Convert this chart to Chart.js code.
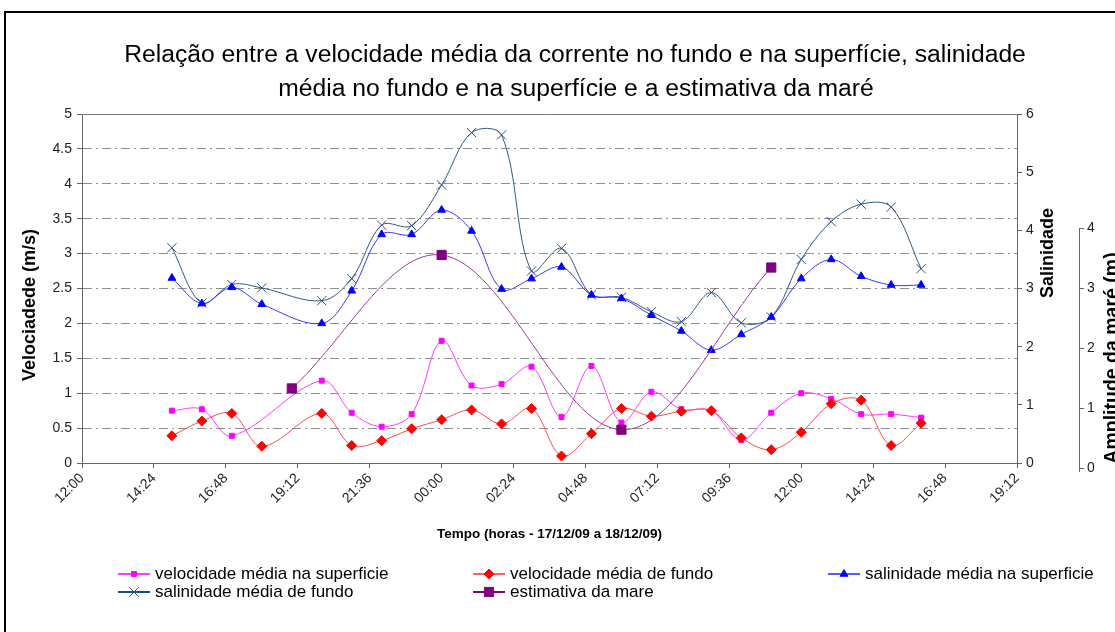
<!DOCTYPE html>
<html lang="pt">
<head>
<meta charset="utf-8">
<title>Velocidade, salinidade e maré</title>
<script src="https://cdn.jsdelivr.net/npm/chart.js@4/dist/chart.umd.min.js"></script>
<style>
  html, body { margin: 0; padding: 0; background: #fff; overflow: hidden; }
  #quadro { position: relative; width: 1115px; height: 632px; overflow: hidden; }
  #moldura { position: absolute; left: 4px; top: 11px; width: 1200px; height: 700px; border: 2px solid #000; }
  #grafico { position: absolute; left: 0; top: 0; }
</style>
</head>
<body>
<div id="quadro">
  <div id="moldura"></div>
  <canvas id="grafico" width="1115" height="632"></canvas>
</div>
<script>
// horas das medições (17/12/09 15:00 até 18/12/09 16:00)
const horas = ['15:00', '16:00', '17:00', '18:00', '19:00', '20:00', '21:00', '22:00', '23:00',
  '00:00', '01:00', '02:00', '03:00', '04:00', '05:00', '06:00', '07:00', '08:00', '09:00',
  '10:00', '11:00', '12:00', '13:00', '14:00', '15:00', '16:00'];

// velocidades em m/s
const velSuperficie = [0.75, 0.77, 0.39, null, null, 1.18, 0.72, 0.52, 0.70, 1.75, 1.11, 1.13, 1.38,
  0.66, 1.39, 0.58, 1.02, 0.77, 0.75, 0.33, 0.72, 1.00, 0.92, 0.70, 0.70, 0.65];
const velFundo = [0.39, 0.60, 0.71, 0.24, null, 0.71, 0.25, 0.32, 0.49, 0.62, 0.76, 0.56, 0.78,
  0.10, 0.42, 0.78, 0.67, 0.74, 0.75, 0.36, 0.19, 0.44, 0.85, 0.90, 0.25, 0.57];

// salinidade
const salSuperficie = [3.18, 2.74, 3.02, 2.73, null, 2.40, 2.96, 3.93, 3.93, 4.35, 3.99, 2.99, 3.17,
  3.37, 2.89, 2.83, 2.54, 2.27, 1.94, 2.21, 2.51, 3.17, 3.50, 3.21, 3.06, 3.06];
const salFundo = [3.70, 2.75, 3.07, 3.01, null, 2.79, 3.17, 4.09, 4.08, 4.78, 5.68, 5.64, 3.30,
  3.69, 2.89, 2.85, 2.60, 2.43, 2.93, 2.41, 2.51, 3.50, 4.15, 4.45, 4.40, 3.34];

// estimativa da maré (m)
const mareHoras = ['19:00', '00:00', '06:00', '11:00'];
const mareValores = [1.33, 3.56, 0.64, 3.35];
const marcasMare = [0, 1, 2, 3, 4];

const titulo = ['Relação entre a velocidade média da corrente no fundo e na superfície, salinidade',
  'média no fundo e na superfície e a estimativa da maré'];

const fonte = "'Liberation Sans', Arial, sans-serif";

// converte "hh:mm" em minutos desde 17/12 12:00, virando o dia quando a hora recua
function paraMinutos(lista) {
  let dia = 0, anterior = -1;
  return lista.map(h => {
    const [hh, mm] = h.split(':').map(Number);
    const m = hh * 60 + mm;
    if (m < anterior) dia++;
    anterior = m;
    return dia * 1440 + m - 720;
  });
}

function pontos(tempos, valores) {
  return tempos.map((t, i) => ({ x: t, y: valores[i] })).filter(p => p.y !== null);
}

function formataHora(min) {
  const total = (min + 720) % 1440;
  const h = Math.floor(total / 60), m = Math.round(total % 60);
  return String(h).padStart(2, '0') + ':' + String(m).padStart(2, '0');
}

const tempos = paraMinutos(horas);
const temposMare = paraMinutos(mareHoras);

// títulos, eixo da maré, borda superior e legenda em grade
const extras = {
  id: 'extras',
  afterDraw(chart) {
    const ctx = chart.ctx;
    const area = chart.chartArea;
    const sMare = chart.scales.yMare;
    ctx.save();

    // linha superior da área do gráfico
    ctx.strokeStyle = '#777';
    ctx.lineWidth = 1;
    ctx.beginPath();
    ctx.moveTo(area.left, Math.round(area.top) + 0.5);
    ctx.lineTo(area.right, Math.round(area.top) + 0.5);
    ctx.stroke();

    // eixo da maré só de 0 a 4
    ctx.strokeStyle = '#666';
    ctx.beginPath();
    ctx.moveTo(Math.round(sMare.left) + 0.5, sMare.getPixelForValue(0) + 4);
    ctx.lineTo(Math.round(sMare.left) + 0.5, sMare.getPixelForValue(4));
    ctx.stroke();

    // título
    ctx.fillStyle = '#000';
    ctx.textAlign = 'center';
    ctx.textBaseline = 'middle';
    ctx.font = '24.7px ' + fonte;
    ctx.fillText(titulo[0], 575, 55);
    ctx.fillText(titulo[1], 576, 89);

    // títulos dos eixos verticais
    const vertical = (texto, x, y) => {
      ctx.save();
      ctx.translate(x, y);
      ctx.rotate(-Math.PI / 2);
      ctx.fillText(texto, 0, 0);
      ctx.restore();
    };
    ctx.font = 'bold 18px ' + fonte;
    vertical('Velociadede (m/s)', 30, 305);
    vertical('Salinidade', 1048, 253);
    ctx.font = 'bold 19.5px ' + fonte;
    ctx.textBaseline = 'alphabetic';
    vertical('Amplitude da maré (m)', 1118, 358);

    // legenda
    ctx.font = '17px ' + fonte;
    ctx.textAlign = 'left';
    ctx.textBaseline = 'middle';
    chart.data.datasets.forEach((ds, i) => {
      const x0 = 118 + (i % 3) * 355;
      const y = 574 + Math.floor(i / 3) * 18;
      ctx.strokeStyle = ds.legendaCor;
      ctx.lineWidth = 2;
      ctx.beginPath();
      ctx.moveTo(x0, y);
      ctx.lineTo(x0 + 32, y);
      ctx.stroke();
      ctx.fillStyle = ds.pointBackgroundColor;
      ctx.strokeStyle = ds.pointBorderColor;
      ctx.lineWidth = ds.pointBorderWidth;
      Chart.helpers.drawPoint(ctx, {
        pointStyle: ds.pointStyle, radius: ds.pointRadius, borderWidth: ds.pointBorderWidth, rotation: 0
      }, x0 + 16, y);
      ctx.fillStyle = '#000';
      ctx.fillText(ds.label, x0 + 37, y);
    });
    ctx.restore();
  }
};

const base = { borderWidth: 1, tension: 0.35, fill: false, pointBorderWidth: 1 };

new Chart(document.getElementById('grafico'), {
  type: 'line',
  data: {
    datasets: [
      { ...base, label: 'velocidade média na superficie', data: pontos(tempos, velSuperficie), yAxisID: 'y',
        borderColor: '#ff3dff', legendaCor: '#ff3dff', pointStyle: 'rect', pointRadius: 3.5,
        pointBackgroundColor: '#ff00ff', pointBorderColor: '#ff00ff', order: 3 },
      { ...base, label: 'velocidade média de fundo', data: pontos(tempos, velFundo), yAxisID: 'y',
        borderColor: '#ff4a4a', legendaCor: '#ff6060', pointStyle: 'rectRot', pointRadius: 5,
        pointBackgroundColor: '#ff0000', pointBorderColor: '#ff0000', order: 2 },
      { ...base, label: 'salinidade média na superficie', data: pontos(tempos, salSuperficie), yAxisID: 'ySal',
        borderColor: '#3838ff', legendaCor: '#5a5aff', pointStyle: 'triangle', pointRadius: 4.5,
        pointBackgroundColor: '#0000ff', pointBorderColor: '#0000ff', order: 4 },
      { ...base, label: 'salinidade média de fundo', data: pontos(tempos, salFundo), yAxisID: 'ySal',
        borderColor: '#2d5a84', legendaCor: '#1f4e79', pointStyle: 'crossRot', pointRadius: 6.5,
        pointBackgroundColor: '#2a4f7a', pointBorderColor: '#2a4f7a', order: 5 },
      { ...base, label: 'estimativa da mare', data: pontos(temposMare, mareValores), yAxisID: 'yMare',
        borderColor: '#9a3d9a', legendaCor: '#800080', pointStyle: 'rect', pointRadius: 6.5,
        pointBackgroundColor: '#800080', pointBorderColor: '#800080', order: 1 }
    ]
  },
  options: {
    responsive: false,
    animation: false,
    events: [],
    layout: { padding: { top: 114, bottom: 87, left: 5, right: 0 } },
    plugins: { legend: { display: false }, title: { display: false }, tooltip: { enabled: false } },
    scales: {
      x: {
        type: 'linear', position: 'bottom', min: 0, max: 1872,
        ticks: {
          stepSize: 144, autoSkip: false, maxRotation: 45, minRotation: 45, padding: 2,
          color: '#222', font: { family: fonte, size: 14 }, callback: v => formataHora(v)
        },
        grid: { drawOnChartArea: false, tickLength: 5, tickColor: '#666' },
        border: { color: '#666' },
        title: {
          display: true, text: 'Tempo (horas - 17/12/09 a 18/12/09)', color: '#000',
          font: { family: fonte, size: 13.5, weight: 'bold' }, padding: { top: 0, bottom: 3 }
        },
        afterFit: s => { s.height = 82; }
      },
      y: {
        position: 'left', min: 0, max: 5,
        ticks: { stepSize: 0.5, padding: 5, color: '#222', font: { family: fonte, size: 14 }, callback: v => String(v) },
        grid: { color: '#8f8f8f', tickLength: 5, tickColor: '#666' },
        border: { color: '#666', dash: [9, 4, 2, 4] },
        afterFit: s => { s.width = 77; }
      },
      ySal: {
        position: 'right', min: 0, max: 6, weight: 0,
        ticks: { stepSize: 1, padding: 4, color: '#222', font: { family: fonte, size: 14 } },
        grid: { drawOnChartArea: false, tickLength: 5, tickColor: '#666' },
        border: { color: '#666' },
        afterFit: s => { s.width = 62; }
      },
      yMare: {
        position: 'right', min: 0.084, max: 5.915, weight: 1,
        afterBuildTicks: s => { s.ticks = marcasMare.map(v => ({ value: v })); },
        ticks: { padding: 3, color: '#222', font: { family: fonte, size: 14 } },
        grid: { drawOnChartArea: false, tickLength: 5, tickColor: '#666' },
        border: { display: false },
        afterFit: s => { s.width = 36; }
      }
    }
  },
  plugins: [extras]
});
</script>
</body>
</html>
